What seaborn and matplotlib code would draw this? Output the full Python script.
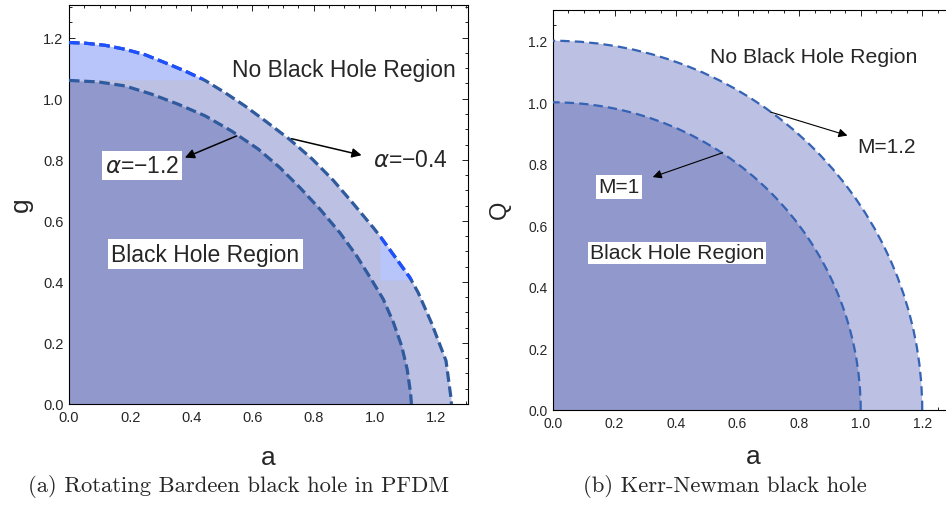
import numpy as np
import matplotlib
matplotlib.use("Agg")
import matplotlib.pyplot as plt
from matplotlib.patches import Rectangle, Wedge, Arc
from matplotlib.ticker import MultipleLocator, FormatStrFormatter
import seaborn as sns

# ---------------- data ----------------
# (a) Rotating Bardeen black hole in PFDM : horizon curves g(a)
outer_a = [0.000, 0.052, 0.118, 0.183, 0.249, 0.314, 0.379, 0.445, 0.510, 0.576,
           0.641, 0.720, 0.795, 0.864, 0.930, 0.995, 1.017, 1.072, 1.115, 1.142,
           1.185, 1.233, 1.248, 1.251]
outer_g = [1.184, 1.182, 1.175, 1.162, 1.144, 1.118, 1.091, 1.060, 1.020, 0.976,
           0.928, 0.868, 0.803, 0.733, 0.656, 0.578, 0.550, 0.474, 0.414, 0.365,
           0.267, 0.142, 0.030, 0.000]
inner_a = [0.000, 0.096, 0.183, 0.270, 0.357, 0.445, 0.532, 0.619, 0.690, 0.755,
           0.821, 0.886, 0.941, 0.995, 1.028, 1.061, 1.088, 1.106, 1.117, 1.120]
inner_g = [1.060, 1.055, 1.042, 1.015, 0.982, 0.944, 0.894, 0.835, 0.774, 0.709,
           0.638, 0.561, 0.485, 0.398, 0.343, 0.267, 0.190, 0.114, 0.037, 0.000]
alpha_labels = ["$\\alpha$=\u22121.2", "$\\alpha$=\u22120.4"]
# lighter rendering patches of the outer region (start a, lower g)
patch_a_start = [0.000, 1.017]
patch_g_low = [1.062, 0.406]

# (b) Kerr-Newman black hole : a^2 + Q^2 = M^2
masses = [1.0, 1.2]
mass_labels = ["M=1", "M=1.2"]

region_in = "Black Hole Region"
region_out = "No Black Hole Region"
captions = ["(a) Rotating Bardeen black hole in PFDM", "(b) Kerr-Newman black hole"]

# ---------------- style ----------------
sns.set_theme(style="ticks")
plt.rcParams["font.family"] = ["Liberation Sans", "DejaVu Sans"]
plt.rcParams["mathtext.fontset"] = "dejavusans"
plt.rcParams["axes.unicode_minus"] = True

C_INNER = "#9199cc"
C_BAND = "#bcc0e2"
C_LIGHT = "#b8c5fa"
C_DARK = "#2f5a9e"
C_BRIGHT = "#1f50ff"
C_RIGHT = "#3462b4"

W, H = 946, 506
fig = plt.figure(figsize=(W / 100, H / 100), dpi=100)


def px_axes(x0, y0, x1, y1):
    return fig.add_axes([x0 / W, 1 - y1 / H, (x1 - x0) / W, (y1 - y0) / H])


def frame(ax, xmax, ymax, fs):
    ax.set_xlim(0, xmax)
    ax.set_ylim(0, ymax)
    for s in ax.spines.values():
        s.set_visible(True)
        s.set_color("black")
        s.set_linewidth(0.8)
    ax.xaxis.set_major_locator(MultipleLocator(0.2))
    ax.yaxis.set_major_locator(MultipleLocator(0.2))
    ax.xaxis.set_minor_locator(MultipleLocator(0.05))
    ax.yaxis.set_minor_locator(MultipleLocator(0.05))
    ax.xaxis.set_major_formatter(FormatStrFormatter("%.1f"))
    ax.yaxis.set_major_formatter(FormatStrFormatter("%.1f"))
    ax.tick_params(which="both", direction="in", top=True, right=True,
                   labeltop=False, labelright=False, color="#222222", width=0.7)
    ax.tick_params(which="major", length=4.0, labelsize=fs, pad=4)
    ax.tick_params(which="minor", length=2.2)
    ax.grid(False)
    ax.set_facecolor("white")


# ================= panel (a) =================
ax1 = px_axes(69, 6, 468, 405)
frame(ax1, 1.305, 1.307, 10.5)

oa = np.array(outer_a)
og = np.array(outer_g)
ax1.fill_between(oa, 0, og, color=C_BAND, lw=0, zorder=1)
ax1.fill_between(inner_a, 0, inner_g, color=C_INNER, lw=0, zorder=2)
for a0, g0 in zip(patch_a_start, patch_g_low):
    ax1.fill_between(oa, g0, og, where=(oa >= a0) & (og >= g0), interpolate=True,
                     color=C_LIGHT, lw=0, zorder=2)

dash_a = (0, (3.3, 1.45))
sns.lineplot(x=inner_a, y=inner_g, ax=ax1, color=C_DARK, lw=2.3,
             linestyle=dash_a, sort=False, estimator=None, zorder=4)
sns.lineplot(x=outer_a, y=outer_g, ax=ax1, color=C_DARK, lw=2.3,
             linestyle=dash_a, sort=False, estimator=None, zorder=4)
# bright copies of the outer curve along the lighter patches
clip_boxes = [(-0.05, patch_g_low[0], 0.49, 0.4),
              (patch_a_start[1], patch_g_low[1], 0.4, 0.25)]
for (x0, y0, w, h) in clip_boxes:
    sns.lineplot(x=outer_a, y=outer_g, ax=ax1, color=C_BRIGHT, lw=2.3,
                 linestyle=dash_a, sort=False, estimator=None, zorder=5)
    rect = Rectangle((x0, y0), w, h, transform=ax1.transData)
    ax1.lines[-1].set_clip_path(rect)

ax1.text(0.898, 1.096, region_out, fontsize=16.5, ha="center", va="center", zorder=6)
ax1.text(0.445, 0.490, region_in, fontsize=16.5, ha="center", va="center", zorder=6,
         bbox=dict(boxstyle="square,pad=0.15", fc="white", ec="none"))
ax1.text(0.239, 0.782, alpha_labels[0], fontsize=16.5, ha="center", va="center", zorder=6,
         bbox=dict(boxstyle="square,pad=0.12", fc="white", ec="none"))
ax1.text(1.118, 0.802, alpha_labels[1], fontsize=16.5, ha="center", va="center", zorder=6)
arrow_kw = dict(arrowstyle="-|>", lw=1.1, color="black", mutation_scale=14,
                shrinkA=0, shrinkB=0)
ax1.annotate("", xy=(0.379, 0.807), xytext=(0.548, 0.878), arrowprops=arrow_kw, zorder=7)
ax1.annotate("", xy=(0.957, 0.815), xytext=(0.728, 0.869), arrowprops=arrow_kw, zorder=7)

ax1.set_xlabel("a", fontsize=19)
ax1.xaxis.label.set_va("baseline")
ax1.xaxis.set_label_coords(0.499, -0.150)
ax1.set_ylabel("g", fontsize=19)
ax1.yaxis.label.set_va("center")
ax1.yaxis.set_label_coords(-0.120, 0.501)

# ================= panel (b) =================
ax2 = px_axes(553, 11, 953, 411)
frame(ax2, 1.3, 1.3, 10)

fills = [C_BAND, C_INNER]
for M, fc in zip(sorted(masses, reverse=True), fills):
    ax2.add_patch(Wedge((0, 0), M, 0, 90, facecolor=fc, edgecolor="none", zorder=1))
for M in masses:
    ax2.add_patch(Arc((0, 0), 2 * M, 2 * M, theta1=0, theta2=90, color=C_RIGHT,
                      lw=1.6, linestyle=(0, (4.2, 2.3)), zorder=4))

ax2.text(0.847, 1.148, region_out, fontsize=15.3, ha="center", va="center", zorder=6)
ax2.text(0.402, 0.511, region_in, fontsize=15.3, ha="center", va="center", zorder=6,
         bbox=dict(boxstyle="square,pad=0.08", fc="white", ec="none"))
ax2.text(0.214, 0.725, mass_labels[0], fontsize=15, ha="center", va="center", zorder=6,
         bbox=dict(boxstyle="square,pad=0.1", fc="white", ec="none"))
ax2.text(1.083, 0.855, mass_labels[1], fontsize=15, ha="center", va="center", zorder=6)
arrow_kw2 = dict(arrowstyle="-|>", lw=0.8, color="black", mutation_scale=13,
                 shrinkA=0, shrinkB=0)
ax2.annotate("", xy=(0.324, 0.757), xytext=(0.551, 0.836), arrowprops=arrow_kw2, zorder=7)
ax2.annotate("", xy=(0.957, 0.892), xytext=(0.708, 0.968), arrowprops=arrow_kw2, zorder=7)

ax2.set_xlabel("a", fontsize=19)
ax2.xaxis.label.set_va("baseline")
ax2.xaxis.set_label_coords(0.5, -0.132)
ax2.set_ylabel("Q", fontsize=17)
ax2.yaxis.label.set_va("center")
ax2.yaxis.set_label_coords(-0.1325, 0.5025)

# ================= captions =================
fig.text(239 / W, 1 - 492 / H, captions[0], family=["cmr10", "DejaVu Serif"],
         fontsize=16.3, ha="center", va="baseline")
fig.text(724.5 / W, 1 - 492 / H, captions[1], family=["cmr10", "DejaVu Serif"],
         fontsize=16.3, ha="center", va="baseline")

fig.savefig("out.png", dpi=100, facecolor="white")
